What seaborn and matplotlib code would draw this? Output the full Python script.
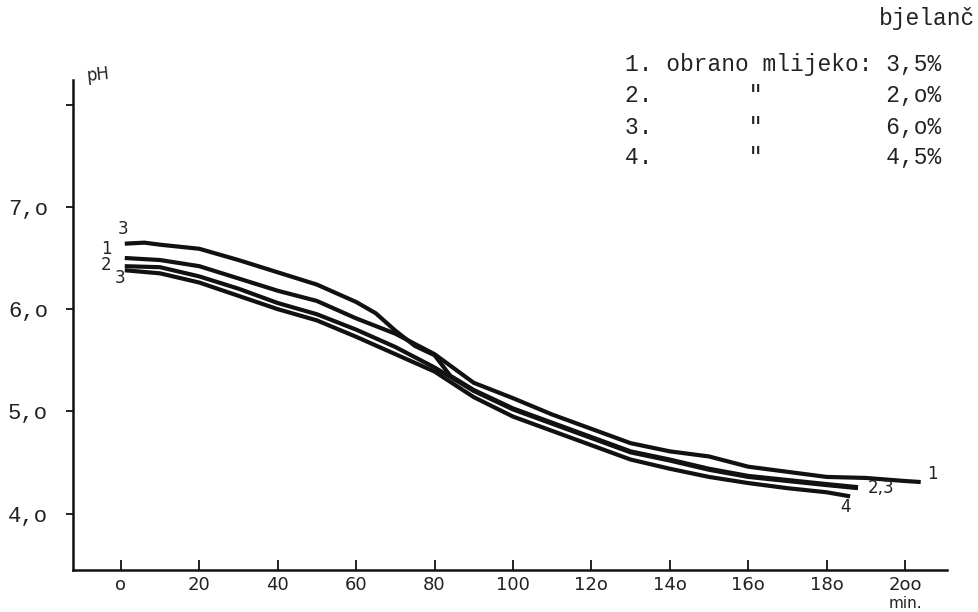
#!/usr/bin/env python3
# pH drop of skim milk at different protein (bjelanč) levels, hand-drawn style chart.

import pandas as pd
import seaborn as sns
import matplotlib.pyplot as plt

# curve 1: obrano mlijeko 3,5%
MIN_1 = [1, 10, 20, 30, 40, 50, 60, 70, 80, 90, 100, 110, 120, 130, 140, 150, 160, 170, 180, 190, 200, 204]
PH_1  = [6.50, 6.48, 6.42, 6.30, 6.18, 6.08, 5.91, 5.76, 5.56, 5.28, 5.13, 4.97, 4.83, 4.69, 4.61, 4.56,
         4.46, 4.41, 4.36, 4.35, 4.32, 4.31]

# curve 2: 2,0%
MIN_2 = [1, 10, 20, 30, 40, 50, 60, 70, 80, 90, 100, 110, 120, 130, 140, 150, 160, 170, 180, 188]
PH_2  = [6.42, 6.41, 6.32, 6.20, 6.06, 5.95, 5.80, 5.63, 5.43, 5.20, 5.02, 4.88, 4.74, 4.60, 4.52, 4.43,
         4.36, 4.32, 4.28, 4.25]

# curve 3: 6,0% (crosses over and ends together with curve 2)
MIN_3 = [1, 6, 10, 20, 30, 40, 50, 60, 65, 70, 75, 80, 84, 90, 100, 110, 120, 130, 140, 150, 160, 170,
         180, 188]
PH_3  = [6.64, 6.65, 6.63, 6.59, 6.48, 6.36, 6.24, 6.07, 5.96, 5.79, 5.64, 5.55, 5.35, 5.21, 5.03, 4.89,
         4.75, 4.61, 4.53, 4.44, 4.37, 4.33, 4.29, 4.26]

# curve 4: 4,5%
MIN_4 = [1, 10, 20, 30, 40, 50, 60, 70, 80, 90, 100, 110, 120, 130, 140, 150, 160, 170, 180, 186]
PH_4  = [6.38, 6.35, 6.26, 6.13, 6.00, 5.89, 5.73, 5.56, 5.39, 5.14, 4.95, 4.81, 4.67, 4.53, 4.44, 4.36,
         4.30, 4.25, 4.21, 4.17]

SERIES = ["1", "2", "3", "4"]

X_TICKS  = [0, 20, 40, 60, 80, 100, 120, 140, 160, 180, 200]
X_LABELS = ["o", "20", "40", "60", "80", "100", "12o", "14o", "16o", "18o", "2oo"]
Y_TICKS  = [4, 5, 6, 7, 8]
Y_LABELS = ["4,o", "5,o", "6,o", "7,o", ""]

LEGEND_TITLE = "bjelanč"
LEGEND_ROWS = [
    '1. obrano mlijeko: 3,5%',
    '2.       "         2,o%',
    '3.       "         6,o%',
    '4.       "         4,5%',
]

MONO = ["Liberation Mono", "DejaVu Sans Mono"]
HAND = ["DejaVu Sans"]


def main():
    frames = []
    for name, xs, ys in zip(SERIES, [MIN_1, MIN_2, MIN_3, MIN_4], [PH_1, PH_2, PH_3, PH_4]):
        frames.append(pd.DataFrame({"min": xs, "ph": ys, "curve": name}))
    df = pd.concat(frames, ignore_index=True)

    sns.set_theme(style="ticks")
    plt.rcParams["font.family"] = ["DejaVu Sans"]

    fig = plt.figure(figsize=(9.79, 6.12), dpi=100)
    ax = fig.add_axes([0.0746, 0.0686, 0.8927, 0.8007])

    sns.lineplot(data=df, x="min", y="ph", hue="curve", units="curve", estimator=None, sort=False,
                 palette={s: "#111111" for s in SERIES}, linewidth=3.0, legend=False, ax=ax)
    for ln in ax.lines:
        ln.set_solid_joinstyle("round")
        ln.set_solid_capstyle("butt")

    ax.set_xlim(-12.2, 210.7)
    ax.set_ylim(3.45, 8.24)
    ax.set_xticks(X_TICKS)
    ax.set_xticklabels(X_LABELS, family=HAND, fontsize=13, color="#222222")
    ax.set_yticks(Y_TICKS)
    ax.set_yticklabels(Y_LABELS, family=MONO, fontsize=16, color="#222222")
    ax.tick_params(axis="x", direction="in", length=7, width=1.3, pad=4, color="#111111")
    ax.tick_params(axis="y", direction="out", length=5, width=1.3, pad=13, color="#111111")
    ax.set_xlabel("")
    ax.set_ylabel("")
    sns.despine(ax=ax)
    for side in ("left", "bottom"):
        ax.spines[side].set_color("#111111")
        ax.spines[side].set_linewidth(1.8)

    # curve labels at the line ends
    ends = {s: (xs, ys) for s, xs, ys in zip(SERIES, [MIN_1, MIN_2, MIN_3, MIN_4], [PH_1, PH_2, PH_3, PH_4])}
    lab = dict(textcoords="offset pixels", family=HAND, fontsize=12, color="#222222",
               ha="center", va="center")
    ax.annotate("3", (ends["3"][0][0], ends["3"][1][0]), xytext=(-2, 15), **lab)
    ax.annotate("1", (ends["1"][0][0], ends["1"][1][0]), xytext=(-18, 9), **lab)
    ax.annotate("2", (ends["2"][0][0], ends["2"][1][0]), xytext=(-19, 1), **lab)
    ax.annotate("3", (ends["4"][0][0], ends["4"][1][0]), xytext=(-5, -8), **lab)
    ax.annotate("1", (ends["1"][0][-1], ends["1"][1][-1]), xytext=(12, 8), **lab)
    ax.annotate("2,3", (ends["2"][0][-1], ends["2"][1][-1]), xytext=(23, 0), **lab)
    ax.annotate("4", (ends["4"][0][-1], ends["4"][1][-1]), xytext=(-5, -11), **lab)

    # axis names
    fig.text(98 / 979, 1 - 75 / 612, "pH", family=HAND, fontsize=12, color="#222222",
             ha="center", va="center", rotation=6)
    fig.text(905 / 979, 1 - 603 / 612, "min.", family=HAND, fontsize=11, color="#222222",
             ha="center", va="center")

    # typed legend
    fig.text(975 / 979, 1 - 18 / 612, LEGEND_TITLE, family=MONO, fontsize=16.5, color="#222222",
             ha="right", va="center")
    for row, ypix in zip(LEGEND_ROWS, [65, 96, 127, 158]):
        fig.text(625 / 979, 1 - ypix / 612, row, family=MONO, fontsize=16.5, color="#222222",
                 ha="left", va="center")

    fig.savefig("out.png", dpi=100)


if __name__ == "__main__":
    main()
